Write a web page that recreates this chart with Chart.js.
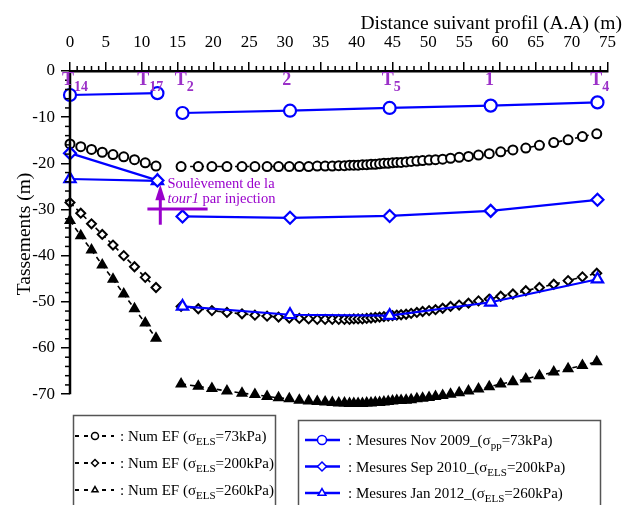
<!DOCTYPE html>
<html>
<head>
<meta charset="utf-8">
<script src="https://cdn.jsdelivr.net/npm/chart.js@4.4.0/dist/chart.umd.min.js"></script>
<style>
html, body { margin: 0; padding: 0; background: #fff; }
</style>
</head>
<body>
<canvas id="chart" width="625" height="505"></canvas>
<script>
// --- data ---
const xLeft  = [0, 1.5, 3, 4.5, 6, 7.5, 9, 10.5, 12];
const xRight = [15.5, 17.9, 19.8, 21.9, 24.0, 25.8, 27.5, 29.1, 30.6, 32.0, 33.3, 34.5, 35.6, 36.6, 37.5, 38.3, 39.0, 39.6, 40.2, 40.8,
                41.4, 42.0, 42.6, 43.2, 43.8, 44.4, 45.0, 45.6, 46.2, 46.9, 47.6, 48.4, 49.2, 50.1, 51.0, 52.0, 53.1, 54.3, 55.6, 57.0,
                58.5, 60.1, 61.8, 63.6, 65.5, 67.5, 69.5, 71.5, 73.5];

const ef73Left  = [-15.8, -16.4, -17.0, -17.6, -18.1, -18.6, -19.2, -19.9, -20.6];
const ef200Left = [-28.5, -30.8, -33.1, -35.4, -37.7, -40.0, -42.4, -44.7, -46.9];
const ef260Left = [-32.4, -35.7, -38.8, -42.0, -45.1, -48.3, -51.5, -54.6, -57.9];

const ef73Right  = [-20.7, -20.7, -20.7, -20.7, -20.7, -20.7, -20.7, -20.7, -20.7, -20.7, -20.7, -20.6, -20.6, -20.6, -20.5, -20.5, -20.4, -20.4, -20.4, -20.3,
                    -20.3, -20.2, -20.2, -20.1, -20.0, -20.0, -19.9, -19.8, -19.8, -19.7, -19.6, -19.5, -19.4, -19.3, -19.2, -19.1, -18.9, -18.7, -18.5, -18.2,
                    -17.9, -17.5, -17.1, -16.7, -16.1, -15.5, -14.9, -14.2, -13.6];
const ef200Right = [-51.0, -51.5, -51.9, -52.3, -52.6, -52.9, -53.1, -53.3, -53.5, -53.6, -53.7, -53.8, -53.8, -53.8, -53.8, -53.8, -53.8, -53.7, -53.7, -53.7,
                    -53.6, -53.5, -53.4, -53.3, -53.2, -53.1, -53.0, -52.9, -52.8, -52.7, -52.5, -52.3, -52.1, -51.9, -51.7, -51.4, -51.0, -50.7, -50.3, -49.8,
                    -49.4, -48.8, -48.3, -47.6, -46.9, -46.2, -45.4, -44.6, -43.8];
const ef260Right = [-67.8, -68.3, -68.8, -69.3, -69.8, -70.1, -70.5, -70.8, -71.0, -71.3, -71.5, -71.6, -71.7, -71.8, -71.9, -71.9, -72.0, -72.0, -72.0, -72.0,
                    -71.9, -71.9, -71.8, -71.8, -71.7, -71.6, -71.5, -71.4, -71.4, -71.3, -71.2, -71.0, -70.9, -70.7, -70.5, -70.3, -70.0, -69.7, -69.3, -68.9,
                    -68.4, -67.8, -67.3, -66.7, -66.0, -65.2, -64.5, -63.8, -63.0];

const mesXLeft  = [0, 12.2];
const mesXRight = [15.7, 30.7, 44.6, 58.7, 73.6];
const nov2009Left = [-5.2, -4.8],   nov2009Right = [-9.1, -8.6, -8.0, -7.5, -6.8];
const sep2010Left = [-17.8, -23.7], sep2010Right = [-31.5, -31.8, -31.4, -30.3, -27.9];
const jan2012Left = [-23.4, -23.8], jan2012Right = [-51.0, -52.8, -53.0, -50.1, -45.1];

// point names along the profile
const pointNames = ['T', 'T', 'T', '2', 'T', '1', 'T'];
const pointSubs  = ['14', '17', '2', '', '5', '', '4'];
const pointNameX = [-1.1, 9.4, 14.6, 29.6, 43.5, 57.9, 72.6];

const yTickValues = [0, -10, -20, -30, -40, -50, -60, -70];
const xMin = 0, xMax = 75, yAxisMin = -70, yAxisMax = 0;
const xTicksMajor = 5, xTicksMinor = 1;
const yTicksMajor = 10, yTicksMinor = 2;

const SERIF = '"Liberation Serif", "DejaVu Serif", serif';
const BLUE = '#0000ff';
const PURPLE = '#9b30c8';
const MAGENTA = '#9900cc';

const pts = (xs, ys) => xs.map((x, i) => ({ x, y: ys[i] }));

function mes(xs, ys, style) {
    return { data: pts(xs, ys), borderColor: BLUE, backgroundColor: '#fff', borderWidth: 2.2, showLine: true,
             pointStyle: style, pointRadius: style === 'triangle' ? 6.5 : 6, pointBorderWidth: 2.2, pointBorderColor: BLUE, clip: false };
}
function ef(xs, ys, style) {
    const filled = style === 'triangle';
    return { data: pts(xs, ys), borderColor: '#000', backgroundColor: filled ? '#000' : '#fff', borderWidth: 1.6, borderDash: [5, 4], showLine: true,
             pointStyle: style, pointRadius: filled ? 5 : 4.5, pointBorderWidth: 2, pointBorderColor: '#000', clip: false };
}

// text with subscripts: parts = [[text, size, dy, style]]
function rich(ctx, x, y, parts, color) {
    ctx.fillStyle = color;
    ctx.textAlign = 'left';
    ctx.textBaseline = 'alphabetic';
    parts.forEach(p => {
        ctx.font = `${p[3] || ''} ${p[1]}px ${SERIF}`;
        ctx.fillText(p[0], x, y + (p[2] || 0));
        x += ctx.measureText(p[0]).width;
    });
}

const decor = {
    id: 'decor',
    afterDraw(chart) {
        const { ctx, scales: { x, y } } = chart;
        ctx.save();
        // y axis line (stops at -70 while the area leaves room for the lowest marks)
        ctx.strokeStyle = '#000'; ctx.lineWidth = 2.5;
        ctx.beginPath(); ctx.moveTo(x.left, y.getPixelForValue(yAxisMax) - 1); ctx.lineTo(x.left, y.getPixelForValue(yAxisMin)); ctx.stroke();
        // minor ticks
        ctx.lineWidth = 1.5;
        for (let v = xMin; v <= xMax; v += xTicksMinor) {
            if (v % xTicksMajor === 0) continue;
            const px = x.getPixelForValue(v);
            ctx.beginPath(); ctx.moveTo(px, y.top); ctx.lineTo(px, y.top - 5); ctx.stroke();
        }
        for (let v = yAxisMax; v >= yAxisMin; v -= yTicksMinor) {
            if (v % yTicksMajor === 0) continue;
            const py = y.getPixelForValue(v);
            ctx.beginPath(); ctx.moveTo(x.left, py); ctx.lineTo(x.left - 5, py); ctx.stroke();
        }
        // axis titles
        ctx.fillStyle = '#000';
        ctx.font = `19.5px ${SERIF}`;
        ctx.textAlign = 'right'; ctx.textBaseline = 'alphabetic';
        ctx.fillText('Distance suivant profil (A.A) (m)', 622, 29);
        ctx.save();
        ctx.translate(25, 234); ctx.rotate(-Math.PI / 2);
        ctx.textAlign = 'center'; ctx.textBaseline = 'middle';
        ctx.fillText('Tassements (m)', 0, 0);
        ctx.restore();

        // point names
        pointNames.forEach((n, i) => {
            const px = x.getPixelForValue(pointNameX[i]);
            const py = y.getPixelForValue(-3.0);
            rich(ctx, px, py, [[n, 18, 0, 'bold'], [pointSubs[i], 14, 6, 'bold']], PURPLE);
        });

        // uplift annotation
        const ax = x.getPixelForValue(12.6);
        ctx.strokeStyle = MAGENTA; ctx.fillStyle = MAGENTA; ctx.lineWidth = 3;
        ctx.beginPath(); ctx.moveTo(ax, y.getPixelForValue(-33.3)); ctx.lineTo(ax, y.getPixelForValue(-27.2)); ctx.stroke();
        ctx.beginPath();
        ctx.moveTo(ax, y.getPixelForValue(-24.6));
        ctx.lineTo(ax - 5, y.getPixelForValue(-28.0));
        ctx.lineTo(ax + 5, y.getPixelForValue(-28.0));
        ctx.closePath(); ctx.fill();
        ctx.beginPath(); ctx.moveTo(x.getPixelForValue(10.8), y.getPixelForValue(-29.9));
        ctx.lineTo(x.getPixelForValue(19.2), y.getPixelForValue(-29.9)); ctx.stroke();
        const tx = x.getPixelForValue(13.6);
        rich(ctx, tx, y.getPixelForValue(-25.4), [['Soulèvement de la', 14.5]], MAGENTA);
        rich(ctx, tx, y.getPixelForValue(-28.6), [['tour1', 14.5, 0, 'italic'], [' par injection', 14.5]], MAGENTA);

        // legend boxes
        ctx.strokeStyle = '#555'; ctx.lineWidth = 1.5;
        ctx.strokeRect(73.5, 415.5, 202, 100);
        ctx.strokeRect(298.5, 420.5, 302, 100);

        const efRows = [['circle', false, '73'], ['rectRot', false, '200'], ['triangle', true, '260']];
        efRows.forEach((r, i) => {
            const cy = 436 + i * 27;
            ctx.strokeStyle = '#000'; ctx.lineWidth = 2; ctx.setLineDash([4, 5]);
            ctx.beginPath(); ctx.moveTo(75, cy); ctx.lineTo(114, cy); ctx.stroke();
            ctx.setLineDash([]);
            ctx.fillStyle = '#fff'; ctx.strokeStyle = '#000'; ctx.lineWidth = 1.5;
            Chart.helpers.drawPoint(ctx, { pointStyle: r[0], radius: 3.5, borderWidth: 1.5 }, 95, cy);
            rich(ctx, 120, cy + 5, [[': Num EF (σ', 15], ['ELS', 11, 4], ['=' + r[2] + 'kPa)', 15]], '#000');
        });

        const mesRows = [['circle', 'pp', '73', 'Nov 2009'], ['rectRot', 'ELS', '200', 'Sep 2010'], ['triangle', 'ELS', '260', 'Jan 2012']];
        mesRows.forEach((r, i) => {
            const cy = 440 + i * 26.5;
            ctx.strokeStyle = BLUE; ctx.lineWidth = 2.5;
            ctx.beginPath(); ctx.moveTo(305, cy); ctx.lineTo(340, cy); ctx.stroke();
            ctx.fillStyle = '#fff'; ctx.strokeStyle = BLUE; ctx.lineWidth = 1.5;
            Chart.helpers.drawPoint(ctx, { pointStyle: r[0], radius: 4.5, borderWidth: 1.5 }, 322, cy);
            rich(ctx, 348, cy + 5, [[': Mesures ' + r[3] + '_(σ', 15], [r[1], 11, 4], ['=' + r[2] + 'kPa)', 15]], '#000');
        });
        ctx.restore();
    }
};

new Chart(document.getElementById('chart'), {
    type: 'scatter',
    data: {
        datasets: [
            mes(mesXLeft, nov2009Left, 'circle'),  mes(mesXRight, nov2009Right, 'circle'),
            mes(mesXLeft, sep2010Left, 'rectRot'), mes(mesXRight, sep2010Right, 'rectRot'),
            mes(mesXLeft, jan2012Left, 'triangle'), mes(mesXRight, jan2012Right, 'triangle'),
            ef(xLeft, ef73Left, 'circle'),    ef(xRight, ef73Right, 'circle'),
            ef(xLeft, ef200Left, 'rectRot'),  ef(xRight, ef200Right, 'rectRot'),
            ef(xLeft, ef260Left, 'triangle'), ef(xRight, ef260Right, 'triangle')
        ]
    },
    options: {
        responsive: false,
        animation: false,
        layout: { padding: { left: 0, right: 15, top: 0, bottom: 97 } },
        plugins: { legend: { display: false }, tooltip: { enabled: false } },
        scales: {
            x: {
                type: 'linear', position: 'top', min: xMin, max: xMax,
                afterFit: s => { s.height = 71; },
                ticks: { stepSize: xTicksMajor, color: '#000', font: { family: SERIF, size: 17 }, padding: 9, maxRotation: 0 },
                grid: { drawOnChartArea: false, drawTicks: true, tickLength: 9, color: '#000', lineWidth: 1.5 },
                border: { display: true, color: '#000', width: 2.5 }
            },
            y: {
                type: 'linear', min: yAxisMin - 3, max: yAxisMax,
                afterFit: s => { s.width = 70; },
                afterBuildTicks: s => { s.ticks = yTickValues.map(v => ({ value: v })); },
                ticks: { color: '#000', font: { family: SERIF, size: 17 }, padding: 6 },
                grid: { drawOnChartArea: false, drawTicks: true, tickLength: 9, color: '#000', lineWidth: 1.5 },
                border: { display: false }
            }
        }
    },
    plugins: [decor]
});
</script>
</body>
</html>
